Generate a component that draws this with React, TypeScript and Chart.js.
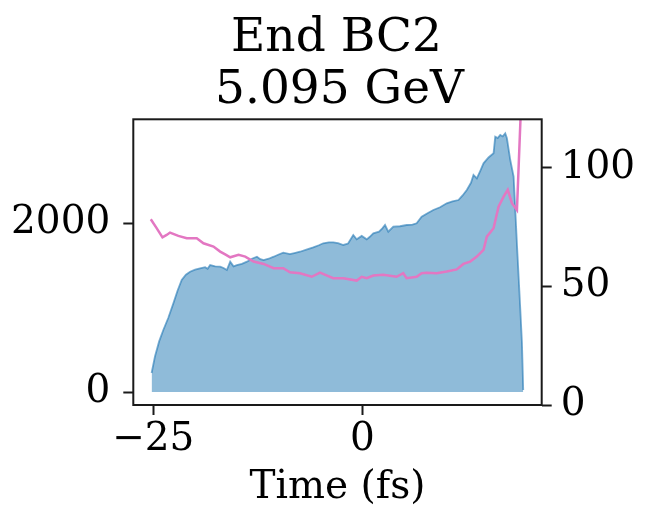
import React, { useEffect, useRef } from "react";
import { Chart, registerables } from "chart.js";

Chart.register(...registerables);

const TITLE_LINES = ["End BC2", "5.095 GeV"];
const X_LABEL = "Time (fs)";
const X_TICKS = [-25, 0];
const Y_TICKS = [0, 2000];
const Y2_TICKS = [0, 50, 100];

const blueTime = [
  -25.2, -24.8, -24.3, -23.8, -23.2, -22.6, -22.1, -21.6, -21.1, -20.6, -20.0, -19.4, -18.8, -18.5, -18.2,
  -17.6, -17.0, -16.6, -16.2, -15.8, -15.4, -15.0, -14.4, -13.8, -13.2, -12.6, -12.2, -11.8, -11.2, -10.6,
  -10.0, -9.45, -8.65, -8.0, -7.45, -6.6, -5.86, -5.2, -4.67, -4.0, -3.47, -2.9, -2.27, -1.7, -1.08, -0.67,
  -0.07, 0.53, 0.9, 1.32, 2.0, 2.4, 2.72, 3.11, 3.71, 4.5, 5.31, 6.0, 6.5, 7.1, 7.8, 8.5, 9.3, 10.1, 10.8,
  11.5, 12.0, 12.5, 13.0, 13.3, 13.7, 14.1, 14.5, 15.1, 15.7, 15.9, 16.2, 16.5, 16.8, 17.1, 17.3, 17.5,
  17.7, 18.1, 18.3, 18.5, 18.7, 18.9, 19.1, 19.25,
];
const blueCount = [
  225, 420, 600, 735, 880, 1051, 1200, 1328, 1390, 1426, 1450, 1466, 1480, 1460, 1505,
  1490, 1486, 1470, 1446, 1545, 1490, 1505, 1520, 1545, 1580, 1604, 1575, 1565, 1580, 1604,
  1630, 1652, 1636, 1650, 1663, 1690, 1715, 1740, 1763, 1775, 1775, 1765, 1743, 1760, 1861, 1810,
  1850, 1810, 1840, 1881, 1900, 1940, 1980, 1900, 1960, 1965, 1980, 1985, 2000, 2078, 2120, 2158, 2190, 2237, 2260,
  2276, 2330, 2395, 2480, 2573, 2533, 2620, 2711, 2780, 2830, 3027, 3010, 3047, 3030, 3067, 3008, 2880,
  2750, 2553, 2158, 1750, 1367, 980, 577, 24,
];

const pinkTime = [
  -25.3, -24.6, -23.9, -23.4, -23.0, -22.0, -21.0, -19.8, -19.0, -17.8, -17.0, -16.4, -15.8, -14.8, -14.0,
  -13.0, -11.8, -10.6, -9.45, -8.65, -7.45, -6.05, -5.06, -3.47, -2.27, -0.67, -0.07, 0.53, 1.32, 2.51,
  4.1, 4.9, 5.3, 6.5, 7.1, 7.7, 8.9, 10.1, 11.3, 12.1, 12.9, 13.7, 14.5, 14.9, 15.7, 16.3, 16.9, 17.4,
  17.9, 18.5, 19.25,
];
const pinkValue = [
  78.2, 74.5, 70.6, 71.6, 72.6, 71.2, 70.2, 70.2, 68.1, 66.7, 64.6, 63.4, 62.2, 63.2, 62.5,
  60.4, 59.4, 57.6, 57.6, 55.9, 55.5, 54.0, 55.7, 53.4, 53.4, 52.4, 54.0, 53.4, 54.5, 54.8,
  54.0, 55.5, 53.4, 54.0, 55.5, 55.7, 55.5, 56.2, 57.1, 59.4, 60.4, 62.5, 65.3, 70.9, 74.4, 83.5, 87.7, 90.6,
  85.0, 82.1, 150,
];

const FONT = "'DejaVu Serif', serif";
const INK = "#1a1a1a";

const fmt = (v: number) => (v < 0 ? "\u2212" + Math.abs(v) : String(v));

export default function App() {
  const ref = useRef<HTMLCanvasElement | null>(null);

  useEffect(() => {
    if (!ref.current) return;
    const framePlugin = {
      id: "frameAndTitle",
      afterDraw(chart: any) {
        const { ctx, chartArea } = chart;
        ctx.save();
        ctx.strokeStyle = INK;
        ctx.lineWidth = 2;
        ctx.strokeRect(chartArea.left, chartArea.top, chartArea.right - chartArea.left, chartArea.bottom - chartArea.top);
        ctx.fillStyle = "#000";
        ctx.font = `47px ${FONT}`;
        ctx.textAlign = "center";
        ctx.textBaseline = "alphabetic";
        const cx = (chartArea.left + chartArea.right) / 2;
        ctx.fillText(TITLE_LINES[0], cx - 1, 51);
        ctx.fillText(TITLE_LINES[1], cx + 2, 103);
        ctx.restore();
      },
    };

    const tickGrid = {
      display: true,
      drawOnChartArea: false,
      drawTicks: true,
      tickLength: 10,
      tickWidth: 2,
      tickColor: INK,
    };

    const chart = new Chart(ref.current, {
      type: "line",
      data: {
        datasets: [
          {
            data: blueTime.map((t, i) => ({ x: t, y: blueCount[i] })),
            yAxisID: "y",
            borderColor: "rgba(31,119,180,0.6)",
            backgroundColor: "rgba(31,119,180,0.5)",
            borderWidth: 1.8,
            fill: "origin",
            pointRadius: 0,
            tension: 0,
            order: 2,
          },
          {
            data: pinkTime.map((t, i) => ({ x: t, y: pinkValue[i] })),
            yAxisID: "y2",
            borderColor: "#e377c2",
            borderWidth: 2.5,
            fill: false,
            pointRadius: 0,
            tension: 0,
            order: 1,
          },
        ],
      },
      options: {
        animation: false,
        responsive: false,
        layout: { padding: { top: 119.3, left: 0, right: 0, bottom: 0 } },
        plugins: { legend: { display: false }, tooltip: { enabled: false }, title: { display: false } },
        scales: {
          x: {
            type: "linear",
            min: -27.39,
            max: 21.46,
            grid: tickGrid as any,
            border: { display: false },
            afterBuildTicks: (s: any) => {
              s.ticks = X_TICKS.map((v) => ({ value: v }));
            },
            afterFit: (s: any) => {
              s.height = 107;
            },
            ticks: {
              font: { family: FONT, size: 39 },
              color: "#000",
              padding: 1,
              maxRotation: 0,
              callback: (v: any) => fmt(Number(v)),
            },
            title: {
              display: true,
              text: X_LABEL,
              font: { family: FONT, size: 39 },
              color: "#000",
              padding: { top: 0, bottom: 1 },
            },
          },
          y: {
            type: "linear",
            position: "left",
            min: -154,
            max: 3233,
            grid: tickGrid as any,
            border: { display: false },
            afterBuildTicks: (s: any) => {
              s.ticks = Y_TICKS.map((v) => ({ value: v }));
            },
            afterFit: (s: any) => {
              s.width = 133.3;
            },
            ticks: {
              font: { family: FONT, size: 39 },
              color: "#000",
              padding: 13,
              callback: (v: any) => fmt(Number(v)),
            },
          },
          y2: {
            type: "linear",
            position: "right",
            min: 0,
            max: 120.3,
            grid: tickGrid as any,
            border: { display: false },
            afterBuildTicks: (s: any) => {
              s.ticks = Y2_TICKS.map((v) => ({ value: v }));
            },
            afterFit: (s: any) => {
              s.width = 111.3;
            },
            ticks: {
              font: { family: FONT, size: 39 },
              color: "#000",
              padding: 9,
              callback: (v: any) => fmt(Number(v)),
            },
          },
        },
      } as any,
      plugins: [framePlugin],
    });
    return () => chart.destroy();
  }, []);

  return (
    <div style={{ position: "fixed", left: 0, top: 0, width: 653, height: 512, background: "#fff" }}>
      <canvas ref={ref} width={653} height={512} style={{ display: "block" }} />
    </div>
  );
}
